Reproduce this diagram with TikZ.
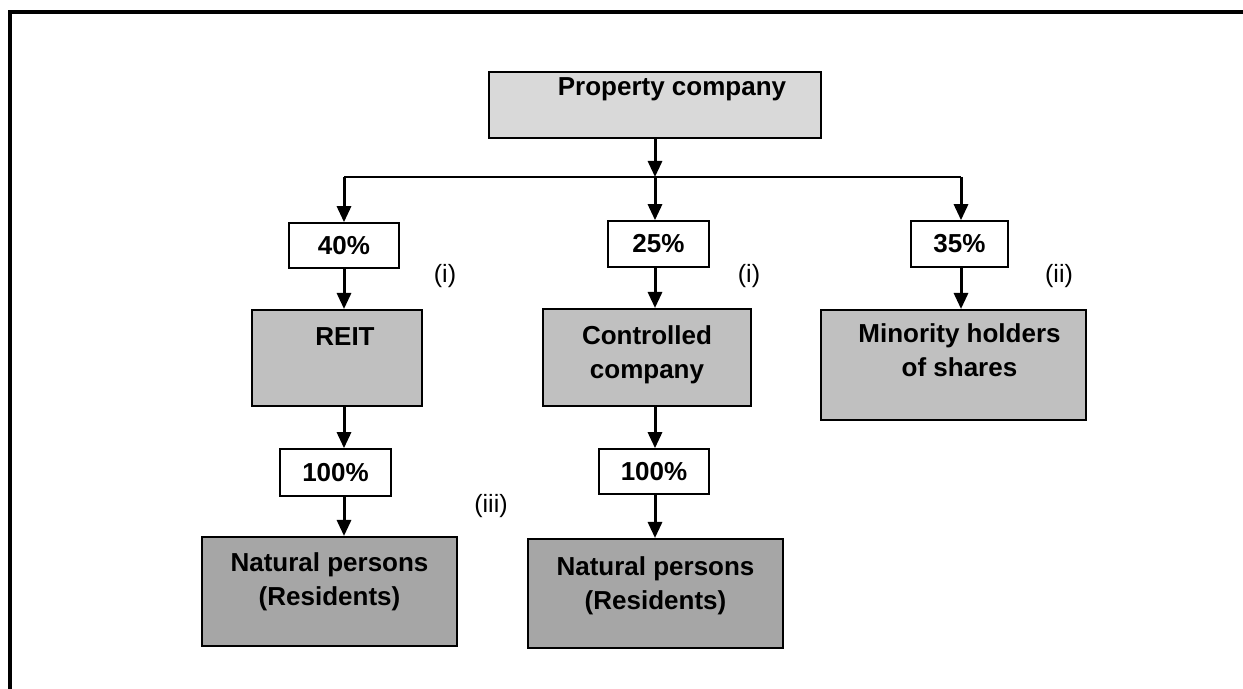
\documentclass[tikz,border=0pt]{standalone}
\usepackage{fontspec}
\setmainfont{Liberation Sans}
\usepackage{xcolor}
\usepackage{tikz}
\usetikzlibrary{arrows.meta, positioning}
\definecolor{ownlight}{HTML}{D9D9D9}
\definecolor{ownmid}{HTML}{C0C0C0}
\definecolor{owndark}{HTML}{A6A6A6}

\begin{document}
\begin{tikzpicture}[x=0.5pt, y=-0.5pt,
  every node/.style={font=\fontsize{13}{17}\selectfont\bfseries},
  holder/.style={draw, line width=1pt, inner sep=0pt},
  share/.style={draw, line width=0.8pt, fill=white, inner sep=0pt},
  boxtext/.style={anchor=north, align=center, inner sep=0pt},
  note/.style={font=\fontsize{12.5}{15}\selectfont},
  arr/.style={line width=1.5pt, -{Triangle[width=7pt,length=8pt]}}]
  \useasboundingbox (0,0) rectangle (1243,689);
  % frame
  \draw[line width=1.8pt] (10,689) -- (10,12) -- (1243,12);
  % owner
  \node[holder, fill=ownlight, minimum width=166pt, minimum height=33pt,
    label={[boxtext, xshift=8.5pt, yshift=-3pt]north:Property company}] (prop) at (655,105) {};
  \coordinate (colA) at (344,177);
  \coordinate (colB) at (655,177);
  \coordinate (colC) at (961,177);
  % shares
  \node[share, minimum width=55pt, minimum height=22.5pt] (pct40) at (344,245.5) {40\%};
  \node[share, minimum width=50.5pt, minimum height=23pt] (pct25) at (658.5,244) {25\%};
  \node[share, minimum width=48.5pt, minimum height=23pt] (pct35) at (959.5,244) {35\%};
  \node[note] (noteA) at (445,276) {(i)};
  \node[note] (noteB) at (749,276) {(i)};
  \node[note] (noteC) at (1059,276) {(ii)};
  % holders
  \node[holder, fill=ownmid, minimum width=85pt, minimum height=48pt,
    label={[boxtext, xshift=4pt, yshift=-9pt]north:REIT}] (reit) at (337,358) {};
  \node[holder, fill=ownmid, minimum width=104pt, minimum height=48.5pt,
    label={[boxtext, yshift=-8.5pt]north:Controlled\\company}] (ctrl) at (647,357.5) {};
  \node[holder, fill=ownmid, minimum width=132.5pt, minimum height=55pt,
    label={[boxtext, xshift=3pt, yshift=-7pt]north:Minority holders\\of shares}] (minor) at (953.5,365) {};
  % residents
  \node[share, minimum width=55.5pt, minimum height=23.5pt] (hunA) at (335.5,472.5) {100\%};
  \node[share, minimum width=55pt, minimum height=22.5pt] (hunB) at (654,471.5) {100\%};
  \node[note] (noteD) at (491,506) {(iii)};
  \node[holder, fill=owndark, minimum width=127.5pt, minimum height=54.5pt,
    label={[boxtext, yshift=-8pt]north:Natural persons\\(Residents)}] (natA) at (329.5,591.5) {};
  \node[holder, fill=owndark, minimum width=127.5pt, minimum height=54.5pt,
    label={[boxtext, yshift=-9pt]north:Natural persons\\(Residents)}] (natB) at (655.5,593.5) {};
  % connectors
  \draw[arr] (prop.south -| colB) -- (colB);
  \draw[line width=0.75pt] (colA) -- (colC);
  \foreach \c/\b in {colA/pct40, colB/pct25, colC/pct35}
    \draw[arr] (\c) -- (\c |- \b.north);
  \foreach \c/\a/\b in {colA/pct40/reit, colA/reit/hunA, colA/hunA/natA,
                        colB/pct25/ctrl, colB/ctrl/hunB, colB/hunB/natB,
                        colC/pct35/minor}
    \draw[arr] (\c |- \a.south) -- (\c |- \b.north);
\end{tikzpicture}
\end{document}
